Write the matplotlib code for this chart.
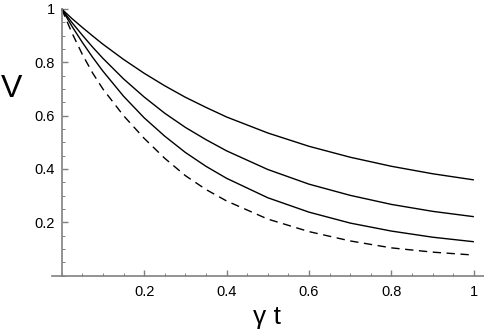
import matplotlib
matplotlib.use("Agg")
import matplotlib.pyplot as plt
from matplotlib.ticker import FixedLocator, MultipleLocator

# gamma*t sample positions
gt = [0, 0.025, 0.05, 0.075, 0.1, 0.15, 0.2, 0.25, 0.3, 0.35, 0.4,
      0.5, 0.6, 0.7, 0.8, 0.9, 1.0]
# visibility curves
v1 = [1, 0.964, 0.931, 0.899, 0.868, 0.811, 0.759, 0.712, 0.669, 0.631, 0.595,
      0.535, 0.485, 0.444, 0.410, 0.382, 0.359]
v2 = [1, 0.949, 0.902, 0.857, 0.815, 0.738, 0.670, 0.609, 0.556, 0.510, 0.468,
      0.398, 0.343, 0.301, 0.267, 0.241, 0.221]
v3 = [1, 0.935, 0.875, 0.819, 0.767, 0.673, 0.592, 0.523, 0.462, 0.410, 0.365,
      0.292, 0.238, 0.197, 0.167, 0.144, 0.127]
vd = [1, 0.91, 0.83, 0.76, 0.70, 0.60, 0.515, 0.44, 0.375, 0.323, 0.28,
      0.212, 0.165, 0.130, 0.104, 0.088, 0.077]

xticks = [0.2, 0.4, 0.6, 0.8, 1.0]
xticklabels = ["0.2", "0.4", "0.6", "0.8", "1"]
yticks = [0.2, 0.4, 0.6, 0.8, 1.0]
yticklabels = ["0.2", "0.4", "0.6", "0.8", "1"]

plt.rcParams['font.family'] = ['Liberation Sans', 'DejaVu Sans']

fig = plt.figure(figsize=(4.85, 3.36), dpi=100)
ax = fig.add_axes([52/485, (336-275.6)/336, 1-52/485, (275.6-9)/336])
ax.set_xlim(-0.0235, 1.027)
ax.set_ylim(0, 1)
ax.patch.set_visible(False)

for s in ['top', 'right']:
    ax.spines[s].set_visible(False)
ax.spines['left'].set_position(('data', 0))
ax.spines['bottom'].set_position(('data', 0))
for s in ['left', 'bottom']:
    ax.spines[s].set_color('#808080')
    ax.spines[s].set_linewidth(1.2)

ax.xaxis.set_major_locator(FixedLocator(xticks))
ax.set_xticklabels(xticklabels)
ax.xaxis.set_minor_locator(MultipleLocator(0.05))
ax.yaxis.set_major_locator(FixedLocator(yticks))
ax.set_yticklabels(yticklabels)
ax.yaxis.set_minor_locator(MultipleLocator(0.05))
ax.tick_params(which='both', direction='in', color='#808080', labelsize=10.5,
               labelcolor='black')
ax.tick_params(which='major', length=4, width=1.0)
ax.tick_params(which='minor', length=2.5, width=0.7)
ax.tick_params(axis='x', pad=7)
ax.tick_params(axis='y', pad=5)

kw = dict(color='black', lw=1.0, clip_on=False, solid_capstyle='butt')
ax.plot(gt, v1, **kw)
ax.plot(gt, v2, **kw)
ax.plot(gt, v3, **kw)
ax.plot(gt, vd, color='black', lw=1.0, clip_on=False, dashes=(6, 4))

fig.text(12/485, 1-88.5/336, "V", fontsize=23, ha='center', va='center')
fig.text(267/485, 1-317/336, "γ t", fontsize=19, ha='center', va='center')

fig.savefig("out.png", dpi=100)
